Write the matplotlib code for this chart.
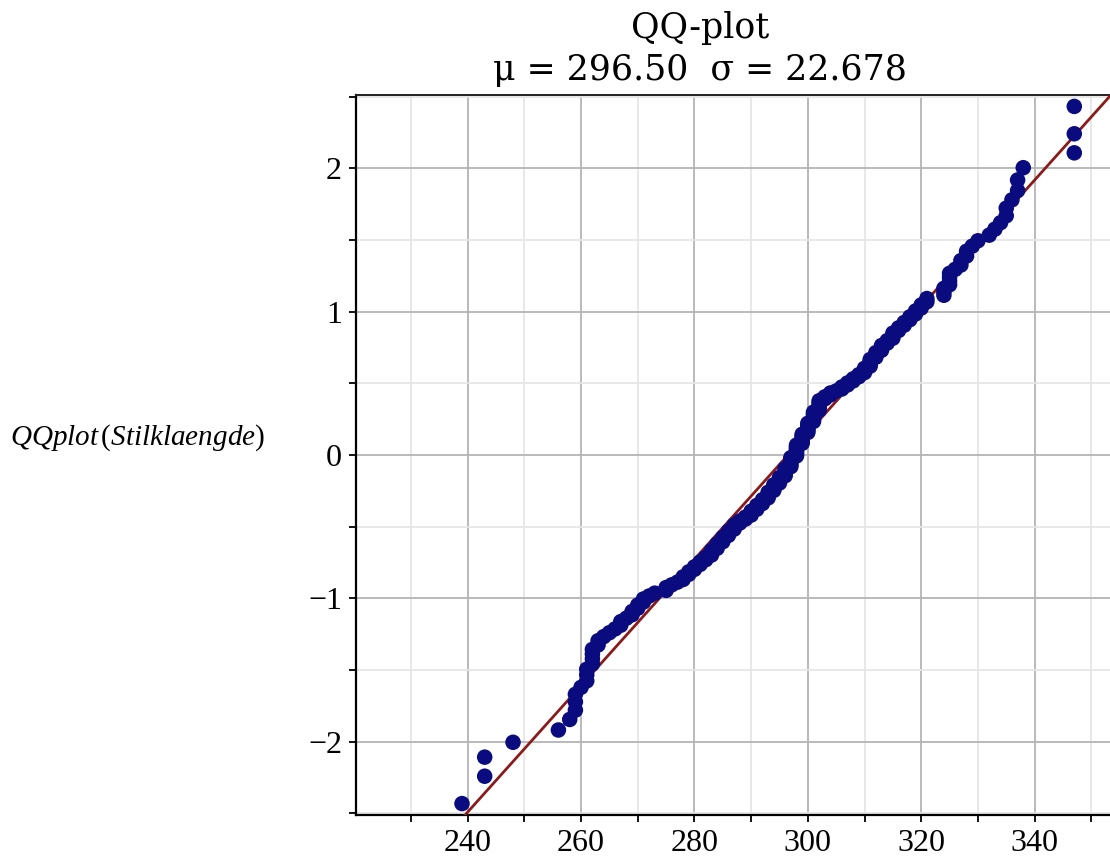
import numpy as np
import matplotlib
matplotlib.use("Agg")
import matplotlib.pyplot as plt
from matplotlib.ticker import MultipleLocator, FixedLocator
from statistics import NormalDist

# Sorted sample values (Stilklaengde), n = 200
stilklaengde = [
    236, 239, 243, 243, 248, 256, 258, 259, 259, 259,
    260, 261, 261, 261, 262, 262, 262, 262, 263, 263,
    264, 265, 266, 267, 267, 268, 269, 269, 270, 270,
    271, 271, 272, 273, 275, 275, 276, 277, 278, 278,
    279, 279, 280, 280, 281, 281, 282, 282, 283, 283,
    283, 284, 284, 284, 285, 285, 285, 286, 286, 286,
    287, 287, 287, 288, 288, 289, 289, 290, 290, 290,
    291, 291, 291, 292, 292, 292, 293, 293, 293, 293,
    294, 294, 294, 294, 295, 295, 295, 295, 296, 296,
    296, 296, 296, 297, 297, 297, 297, 297, 297, 298,
    298, 298, 298, 298, 298, 298, 299, 299, 299, 299,
    299, 299, 300, 300, 300, 300, 300, 300, 301, 301,
    301, 301, 301, 301, 302, 302, 302, 302, 302, 302,
    303, 303, 304, 304, 305, 306, 306, 307, 307, 308,
    308, 309, 309, 310, 310, 310, 311, 311, 311, 311,
    312, 312, 312, 313, 313, 313, 314, 314, 315, 315,
    315, 316, 316, 317, 317, 318, 318, 319, 319, 320,
    320, 321, 321, 324, 324, 324, 325, 325, 325, 325,
    326, 327, 327, 328, 328, 329, 330, 332, 333, 334,
    335, 335, 336, 337, 337, 338, 347, 347, 347, 350,
]

mu = 296.50
sigma = 22.678

x_ticks = [240, 260, 280, 300, 320, 340]
y_ticks = [-2, -1, 0, 1, 2]

# theoretical normal quantiles for plotting positions (i - 0.5)/n
n = len(stilklaengde)
nd = NormalDist()
quantiles = [nd.inv_cdf((i - 0.5) / n) for i in range(1, n + 1)]

plt.rcParams["mathtext.fontset"] = "custom"
plt.rcParams["mathtext.it"] = "Liberation Serif:italic"
plt.rcParams["mathtext.rm"] = "Liberation Serif"

W, H = 1110, 858
fig = plt.figure(figsize=(W / 100, H / 100), dpi=100)
ax = fig.add_axes([356 / W, 1 - 815 / H, (1110 - 356) / W, (815 - 95) / H])

xlim = (220.3, 353.3)
ylim = (-2.512, 2.512)

# reference line
zline = np.array([ylim[0] - 0.2, ylim[1] + 0.2])
ax.plot(mu + sigma * zline, zline, color="#8b1a1a", lw=2.0, zorder=3)

ax.scatter(stilklaengde, quantiles, s=125, color="#0b0b80", edgecolors="none",
           zorder=4, clip_on=True)

ax.set_xlim(*xlim)
ax.set_ylim(*ylim)

ax.xaxis.set_major_locator(FixedLocator(x_ticks))
ax.xaxis.set_minor_locator(MultipleLocator(10))
ax.yaxis.set_major_locator(FixedLocator(y_ticks))
ax.yaxis.set_minor_locator(MultipleLocator(0.5))

ax.grid(which="major", color="#b4b4b4", lw=1.3, zorder=0)
ax.grid(which="minor", color="#e6e6e6", lw=1.3, zorder=0)
ax.set_axisbelow(True)

ax.spines["right"].set_visible(False)
ax.spines["top"].set_color("#222222")
ax.spines["top"].set_linewidth(1.4)
ax.spines["left"].set_linewidth(1.6)
ax.spines["bottom"].set_linewidth(1.6)

ax.tick_params(which="both", direction="out", length=5, width=1.3, color="black")
ax.tick_params(axis="both", which="major", labelsize=23, pad=5)
ax.tick_params(top=False, right=False)

tickfont = "Liberation Serif"
ax.set_xticklabels([str(v) for v in x_ticks], fontfamily=tickfont)
ax.set_yticklabels([("\u2212" + str(-v)) if v < 0 else str(v) for v in y_ticks],
                   fontfamily=tickfont)

# title
fig.text(700 / W, 1 - 28 / H, "QQ-plot", ha="center", va="center",
         fontsize=25, fontfamily="DejaVu Serif")
fig.text(700 / W, 1 - 70 / H, "\u03bc = %.2f  \u03c3 = %.3f" % (mu, sigma),
         ha="center", va="center", fontsize=25, fontfamily="DejaVu Serif")

# y label (horizontal, italic with upright parentheses)
fig.text(10 / W, 1 - 438 / H,
         r"$\mathit{QQplot}\,\mathrm{(}\mathit{Stilklaengde}\mathrm{)}$",
         ha="left", va="center", fontsize=21)

fig.savefig("out.png", dpi=100)
